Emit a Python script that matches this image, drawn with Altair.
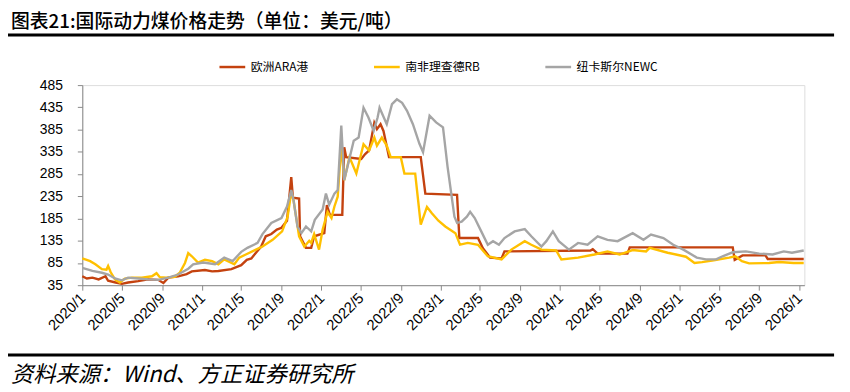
import altair as alt
import pandas as pd

SERIES = ["欧洲ARA港", "南非理查德RB", "纽卡斯尔NEWC"]
COLORS = ["#C4420F", "#FFC000", "#A5A5A5"]

ARA_DATES = [
    "2020-01-01", "2020-01-15", "2020-02-01", "2020-02-20", "2020-03-12", "2020-03-20",
    "2020-04-12", "2020-05-01", "2020-05-20", "2020-06-20", "2020-07-20", "2020-08-20",
    "2020-09-05", "2020-09-20", "2020-10-20", "2020-11-15", "2020-12-01", "2021-01-10",
    "2021-02-01", "2021-02-20", "2021-04-01", "2021-05-01", "2021-05-18", "2021-06-01",
    "2021-06-15", "2021-07-01", "2021-07-15", "2021-08-01", "2021-08-18", "2021-09-01",
    "2021-09-18", "2021-10-01", "2021-10-06", "2021-10-25", "2021-10-28", "2021-11-15",
    "2021-12-01", "2021-12-10", "2022-01-10", "2022-01-18", "2022-01-27", "2022-03-06",
    "2022-03-12", "2022-03-18", "2022-05-03", "2022-05-15", "2022-05-27", "2022-06-12",
    "2022-06-20", "2022-07-01", "2022-07-10", "2022-07-27", "2022-11-01", "2022-11-15",
    "2023-02-20", "2023-02-27", "2023-04-25", "2023-05-10", "2023-06-01", "2023-07-06",
    "2023-07-15", "2024-04-03", "2024-04-10", "2024-04-25", "2024-07-25", "2024-08-01",
    "2025-06-12", "2025-06-18", "2025-07-12", "2025-09-20", "2025-09-27", "2026-01-15",
]
ARA_VALUES = [
    55, 50, 52, 48, 55, 45,
    41, 38, 41, 44, 48, 47,
    40, 52, 55, 60, 66, 69,
    66, 67, 71, 80, 92, 95,
    108, 122, 145, 150, 160, 164,
    180, 278, 232, 230, 145, 119,
    119, 145, 152, 215, 193, 193,
    345, 323, 319, 330, 338, 400,
    386, 397, 382, 323, 323, 241,
    238, 141, 141, 118, 97, 95,
    111, 113, 116, 106, 106, 120,
    120, 92, 102, 102, 94, 94,
]

RB_DATES = [
    "2020-01-01", "2020-01-10", "2020-01-25", "2020-02-10", "2020-03-01", "2020-03-15",
    "2020-03-20", "2020-03-28", "2020-04-10", "2020-04-25", "2020-05-10", "2020-06-01",
    "2020-07-01", "2020-08-01", "2020-08-15", "2020-08-25", "2020-09-15", "2020-10-10",
    "2020-10-25", "2020-11-10", "2020-11-20", "2020-12-01", "2020-12-20", "2021-01-10",
    "2021-02-01", "2021-02-20", "2021-03-10", "2021-04-10", "2021-04-25", "2021-05-15",
    "2021-06-15", "2021-07-05", "2021-08-05", "2021-09-03", "2021-09-20", "2021-10-01",
    "2021-10-08", "2021-10-25", "2021-11-10", "2021-11-25", "2021-12-01", "2021-12-10",
    "2021-12-25", "2022-01-05", "2022-01-20", "2022-02-01", "2022-02-10", "2022-02-20",
    "2022-03-03", "2022-03-12", "2022-03-28", "2022-04-18", "2022-05-10", "2022-05-27",
    "2022-06-12", "2022-06-20", "2022-07-05", "2022-07-20", "2022-08-01", "2022-09-01",
    "2022-09-12", "2022-10-15", "2022-11-01", "2022-11-20", "2022-12-05", "2022-12-25",
    "2023-01-15", "2023-02-15", "2023-03-01", "2023-03-25", "2023-04-25", "2023-05-25",
    "2023-07-06", "2023-08-05", "2023-09-15", "2023-10-05", "2023-11-05", "2023-12-20",
    "2024-01-05", "2024-02-25", "2024-04-15", "2024-05-25", "2024-07-01", "2024-08-10",
    "2024-09-20", "2024-10-01", "2024-11-25", "2025-01-20", "2025-02-15", "2025-03-10",
    "2025-04-15", "2025-06-01", "2025-06-20", "2025-07-10", "2025-08-01", "2025-10-01",
    "2025-11-01", "2025-12-15", "2026-01-15",
]
RB_VALUES = [
    95, 93, 89, 82, 71, 70,
    78, 64, 48, 41, 50, 52,
    52, 55, 62, 53, 52, 54,
    63, 85, 107, 100, 86, 92,
    89, 82, 93, 82, 97, 104,
    115, 122, 137, 156, 189, 245,
    226, 145, 122, 135, 130, 150,
    115, 160, 200, 186, 212, 234,
    349, 271, 323, 286, 352, 338,
    367, 349, 367, 349, 323, 323,
    286, 286, 171, 211, 197, 180,
    167, 152, 126, 130, 126, 100,
    93, 115, 134, 126, 115, 113,
    93, 97, 104, 111, 104, 114,
    111, 119, 108, 99, 85, 87,
    91, 97, 100, 89, 84, 85,
    87, 85, 85,
]

NEWC_DATES = [
    "2020-01-01", "2020-02-01", "2020-03-01", "2020-03-20", "2020-04-10", "2020-05-01",
    "2020-05-20", "2020-06-20", "2020-07-20", "2020-08-20", "2020-09-20", "2020-10-20",
    "2020-11-20", "2020-12-05", "2021-01-05", "2021-02-10", "2021-03-10", "2021-04-05",
    "2021-05-01", "2021-05-20", "2021-06-20", "2021-07-05", "2021-08-01", "2021-09-01",
    "2021-09-18", "2021-10-01", "2021-10-08", "2021-10-20", "2021-11-01", "2021-11-15",
    "2021-12-01", "2021-12-12", "2022-01-05", "2022-01-15", "2022-01-25", "2022-02-10",
    "2022-02-20", "2022-03-03", "2022-03-12", "2022-04-10", "2022-04-25", "2022-05-10",
    "2022-05-25", "2022-06-10", "2022-06-22", "2022-06-28", "2022-07-20", "2022-08-05",
    "2022-08-20", "2022-09-05", "2022-09-20", "2022-10-08", "2022-10-28", "2022-11-08",
    "2022-11-28", "2022-12-18", "2023-01-08", "2023-01-22", "2023-02-12", "2023-02-20",
    "2023-03-06", "2023-03-22", "2023-04-01", "2023-04-15", "2023-05-05", "2023-05-25",
    "2023-06-10", "2023-06-28", "2023-07-15", "2023-08-15", "2023-09-15", "2023-10-05",
    "2023-11-05", "2023-11-20", "2023-12-10", "2023-12-28", "2024-01-28", "2024-02-25",
    "2024-03-25", "2024-04-25", "2024-05-25", "2024-06-25", "2024-08-10", "2024-09-12",
    "2024-10-05", "2024-11-12", "2024-12-12", "2025-01-12", "2025-02-22", "2025-03-22",
    "2025-04-22", "2025-05-12", "2025-06-12", "2025-07-22", "2025-09-01", "2025-10-12",
    "2025-11-15", "2025-12-10", "2026-01-15",
]
NEWC_VALUES = [
    74, 67, 63, 59, 50, 46,
    52, 50, 48, 47, 52, 59,
    72, 82, 86, 82, 97, 89,
    110, 119, 130, 150, 175, 186,
    212, 249, 226, 167, 152, 167,
    156, 182, 205, 241, 216, 241,
    249, 394, 271, 360, 367, 434,
    412, 382, 412, 434, 397, 442,
    453, 445, 427, 397, 353, 334,
    416, 401, 390, 301, 189, 175,
    178, 189, 200, 186, 156, 126,
    134, 126, 141, 156, 161, 145,
    122, 134, 156, 134, 115, 130,
    126, 145, 137, 134, 152, 137,
    149, 141, 126, 115, 97, 93,
    93, 100, 109, 111, 106, 104,
    111, 108, 113,
]

Y_TICKS = [35, 85, 135, 185, 235, 285, 335, 385, 435, 485]
X_TICK_MONTHS = [(2020 + i // 3, 1 + (i % 3) * 4) for i in range(19)]

TITLE = "图表21:国际动力煤价格走势（单位：美元/吨）"
SOURCE = "资料来源：Wind、方正证券研究所"

frames = []
for name, d, v in [(SERIES[0], ARA_DATES, ARA_VALUES),
                   (SERIES[1], RB_DATES, RB_VALUES),
                   (SERIES[2], NEWC_DATES, NEWC_VALUES)]:
    frames.append(pd.DataFrame({"date": d, "value": v, "series": name}))
df = pd.concat(frames, ignore_index=True)

W, H = 729, 202
LEFT, TOP = 75, 76
TOTAL_W, TOTAL_H = 842, 384

x_ticks = [alt.DateTime(year=y, month=m, date=1, utc=True) for y, m in X_TICK_MONTHS]

lines = alt.Chart(df).mark_line(strokeWidth=2.4, interpolate="linear").encode(
    x=alt.X("date:T",
            scale=alt.Scale(type="utc",
                            domain=[alt.DateTime(year=2020, month=1, date=1, utc=True),
                                    alt.DateTime(year=2026, month=1, date=17, utc=True)]),
            axis=alt.Axis(values=x_ticks, title=None, grid=False,
                          labelExpr="utcFormat(datum.value, '%Y/%-m')",
                          labelAngle=315, labelAlign="right", labelBaseline="middle",
                          labelFont="Liberation Sans", labelFontSize=15, labelColor="#000000",
                          labelPadding=5, tickSize=5, tickColor="#898989",
                          domainColor="#898989", labelOverlap=False)),
    y=alt.Y("value:Q",
            scale=alt.Scale(domain=[35, 485], nice=False, zero=False),
            axis=alt.Axis(values=Y_TICKS, title=None, grid=False,
                          labelFont="Liberation Sans", labelFontSize=14, labelColor="#000000",
                          labelPadding=15, tickSize=5, tickColor="#898989",
                          domainColor="#898989")),
    color=alt.Color("series:N",
                    scale=alt.Scale(domain=SERIES, range=COLORS),
                    legend=alt.Legend(orient="none", legendX=137, legendY=-33,
                                      direction="horizontal", title=None,
                                      symbolType="stroke", symbolSize=676,
                                      symbolStrokeWidth=2.5,
                                      labelFont="Noto Sans CJK SC", labelFontSize=12,
                                      labelColor="#000000",
                                      columnPadding=60, labelOffset=4)),
)

one = pd.DataFrame({"k": [0]})

title = alt.Chart(one).mark_text(
    align="left", baseline="middle", font="Noto Sans CJK SC", fontSize=19,
    fontWeight=500, color="#000000"
).encode(x=alt.value(-72), y=alt.value(-64), text=alt.value(TITLE))

title_rule = alt.Chart(one).mark_rule(color="#000000", strokeWidth=3).encode(
    x=alt.value(-75), x2=alt.value(759), y=alt.value(-50.5))

foot_rule = alt.Chart(one).mark_rule(color="#000000", strokeWidth=3).encode(
    x=alt.value(-75), x2=alt.value(759), y=alt.value(272.5))

foot = alt.Chart(one).mark_text(
    align="left", baseline="middle", font="Noto Sans CJK SC", fontSize=22.5,
    fontStyle="italic", color="#000000"
).encode(x=alt.value(-72), y=alt.value(292.5), text=alt.value(SOURCE))

chart = alt.layer(lines, title, title_rule, foot_rule, foot).properties(
    width=W, height=H,
    padding={"left": LEFT, "top": TOP, "right": TOTAL_W - LEFT - W,
             "bottom": TOTAL_H - TOP - H},
    autosize=alt.AutoSizeParams(type="none"),
).configure_view(stroke=None).configure(background="#ffffff")

chart.save("out.html", embed_options={"renderer": "svg", "actions": False})
